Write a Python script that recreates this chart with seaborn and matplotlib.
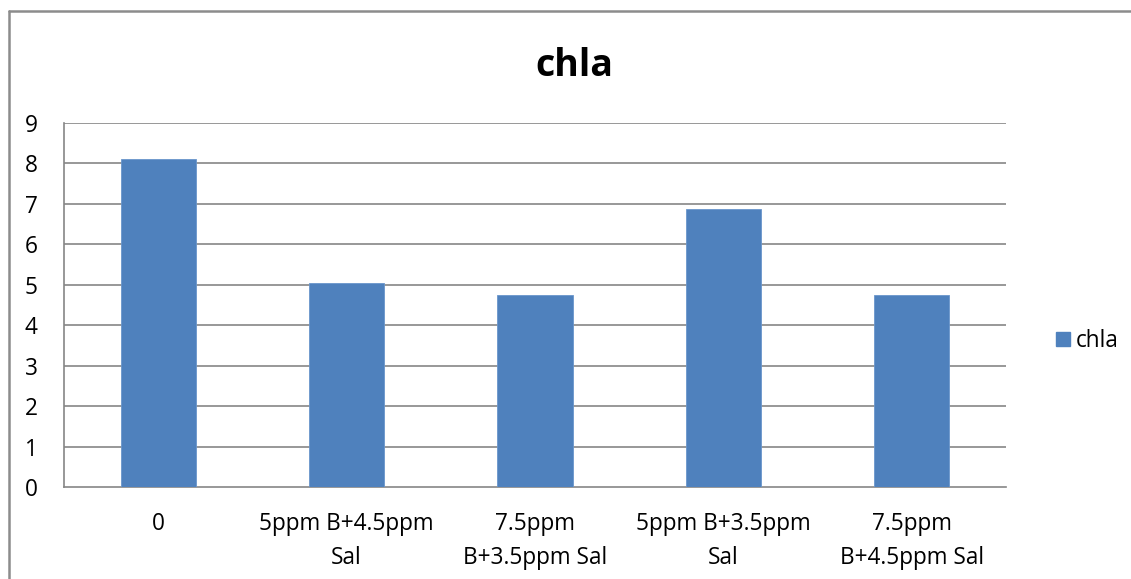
import matplotlib
matplotlib.use("Agg")
import matplotlib.pyplot as plt
import seaborn as sns
import pandas as pd
from matplotlib.lines import Line2D
from matplotlib.patches import Patch

categories = ["0", "5ppm B+4.5ppm\nSal", "7.5ppm\nB+3.5ppm Sal", "5ppm B+3.5ppm\nSal", "7.5ppm\nB+4.5ppm Sal"]
chla = [8.12, 5.04, 4.75, 6.87, 4.75]
yticks = [0, 1, 2, 3, 4, 5, 6, 7, 8, 9]

sns.set_style("white")
plt.rcParams['font.family'] = ['Open Sans', 'DejaVu Sans']
plt.rcParams['text.color'] = 'black'
plt.rcParams['xtick.labelcolor'] = 'black'
plt.rcParams['ytick.labelcolor'] = 'black'

W, H = 1131, 579
fig = plt.figure(figsize=(W / 100, H / 100), dpi=100)
ax = fig.add_axes([64 / W, 1 - 487 / H, (1006 - 64) / W, (487 - 123) / H])

df = pd.DataFrame({"cat": categories, "chla": chla})
bar_color = "#4F81BD"
sns.barplot(data=df, x="cat", y="chla", color=bar_color, width=0.4,
            saturation=1, ax=ax, zorder=3)
for p in ax.patches:
    p.set_edgecolor("#6a96cc")
    p.set_linewidth(0.6)

grid_c = "#868686"
fs = 16.3
ax.set_ylim(0, 9)
ax.set_xlim(-0.5, len(categories) - 0.5)
ax.set_yticks(yticks)
ax.set_yticklabels([str(v) for v in yticks], fontsize=fs, color="black")
for v in yticks[1:]:
    ax.axhline(v, color=grid_c, lw=1.2, zorder=1)

ax.set_xticks(range(len(categories)))
ax.set_xticklabels(categories, fontsize=fs, linespacing=1.55, color="black")
ax.tick_params(axis='x', which='major', length=0, pad=18)
ax.set_xticks([i - 0.5 for i in range(len(categories) + 1)], minor=True)
ax.tick_params(axis='x', which='minor', length=6, color=grid_c, width=1.2)
ax.tick_params(axis='y', which='major', length=6, color=grid_c, width=1.2, pad=13)

for s in ["top", "right"]:
    ax.spines[s].set_visible(False)
for s in ["left", "bottom"]:
    ax.spines[s].set_color(grid_c)
    ax.spines[s].set_linewidth(1.2)
ax.set_xlabel("")
ax.set_ylabel("")

fig.text(574 / W, 1 - 66 / H, "chla", fontsize=27, fontweight="bold",
         ha="center", va="center", color="black")

leg = fig.legend(handles=[Patch(facecolor=bar_color, edgecolor=bar_color, label="chla")],
                 loc="center left", bbox_to_anchor=(1036 / W, 1 - 341 / H),
                 frameon=False, fontsize=fs, handlelength=0.6, handleheight=0.6,
                 handletextpad=0.25)
for t in leg.get_texts():
    t.set_color("black")

# outer chart border (left and top visible)
fig.add_artist(Line2D([8.5 / W, 8.5 / W], [0, 1 - 10.5 / H], transform=fig.transFigure,
                      color="#8c8c8c", lw=1.8))
fig.add_artist(Line2D([8.5 / W, 1.0], [1 - 10.5 / H, 1 - 10.5 / H], transform=fig.transFigure,
                      color="#8c8c8c", lw=1.8))

fig.savefig("out.png", dpi=100)
